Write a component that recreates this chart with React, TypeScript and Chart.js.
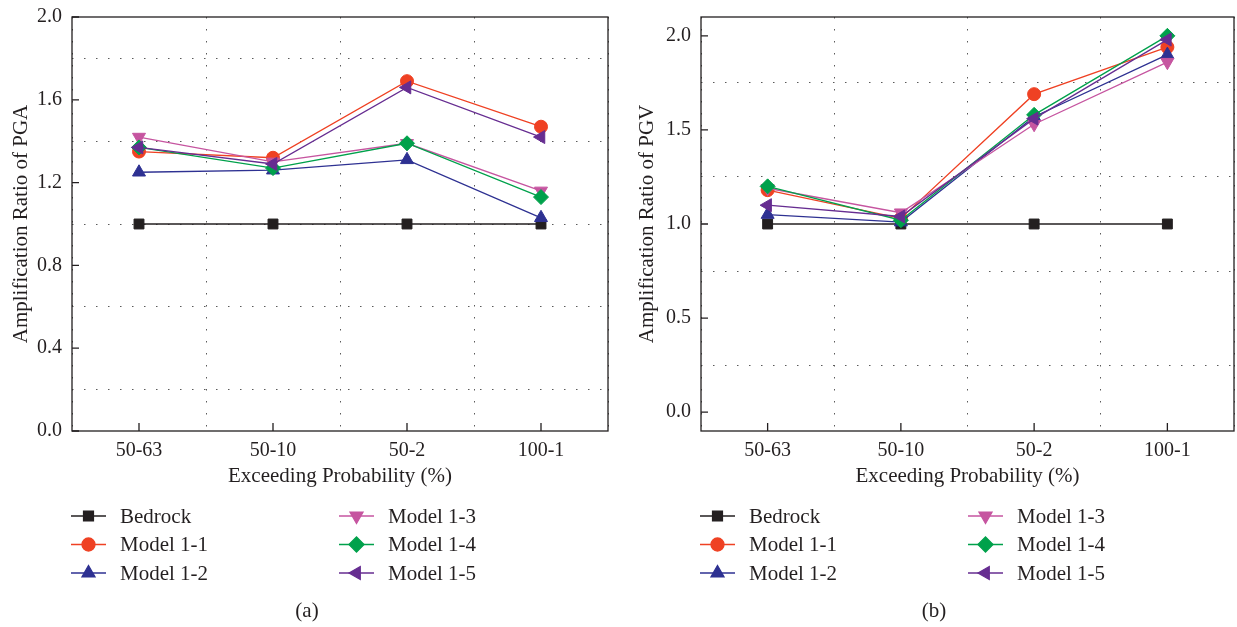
import React, { useEffect, useRef } from 'react';
import { Chart, registerables } from 'chart.js';
import { drawPoint } from 'chart.js/helpers';

Chart.register(...registerables);

// ---------- data ----------
const categories = ['50-63', '50-10', '50-2', '100-1'];
const seriesNames = ['Bedrock', 'Model 1-1', 'Model 1-2', 'Model 1-3', 'Model 1-4', 'Model 1-5'];

const pgaBedrock = [1.0, 1.0, 1.0, 1.0];
const pgaModel11 = [1.35, 1.32, 1.69, 1.47];
const pgaModel12 = [1.25, 1.26, 1.31, 1.03];
const pgaModel13 = [1.42, 1.3, 1.39, 1.16];
const pgaModel14 = [1.37, 1.27, 1.39, 1.13];
const pgaModel15 = [1.37, 1.29, 1.66, 1.42];

const pgvBedrock = [1.0, 1.0, 1.0, 1.0];
const pgvModel11 = [1.18, 1.03, 1.69, 1.94];
const pgvModel12 = [1.05, 1.01, 1.57, 1.9];
const pgvModel13 = [1.19, 1.06, 1.53, 1.86];
const pgvModel14 = [1.2, 1.02, 1.58, 2.0];
const pgvModel15 = [1.1, 1.04, 1.56, 1.98];

const pgaTicks = [0, 0.2, 0.4, 0.6, 0.8, 1.0, 1.2, 1.4, 1.6, 1.8, 2.0];
const pgaLabelTicks = [0, 0.4, 0.8, 1.2, 1.6, 2.0];
const pgvTicks = [0, 0.25, 0.5, 0.75, 1.0, 1.25, 1.5, 1.75, 2.0];
const pgvLabelTicks = [0, 0.5, 1.0, 1.5, 2.0];

// ---------- styles ----------
const FONT = "'Liberation Serif', 'Times New Roman', serif";
const INK = '#231f20';
const GRID = '#5a5a5a';
const colors = ['#231f20', '#ef4123', '#2e3192', '#c655a0', '#00a14b', '#662d91'];
const pointStyles = ['rect', 'circle', 'triangle', 'triangle', 'rectRot', 'triangle'];
const pointRotations = [0, 0, 0, 180, 0, 270];
const pointRadii = [7, 6.5, 7.5, 7.5, 7.5, 7.5];

const isIn = (v: number, list: number[]) => list.some((l) => Math.abs(l - v) < 1e-6);

interface Panel {
  series: number[][];
  ticks: number[];
  labelTicks: number[];
  min: number;
  max: number;
  yTitle: string;
  yWidth: number;
  padRight: number;
  yTitlePad: number;
  caption: string;
  captionX: number;
}

function decorPlugin(p: Panel) {
  return {
    id: 'decor',
    beforeDatasetsDraw(chart: any) {
      const { ctx, chartArea } = chart;
      const { left, right, top, bottom } = chartArea;
      const ys = chart.scales.y;
      const xs = chart.scales.x;
      ctx.save();
      ctx.strokeStyle = INK;
      ctx.lineWidth = 1.3;
      ctx.strokeRect(left, top, right - left, bottom - top);
      ctx.beginPath();
      p.labelTicks.forEach((v) => {
        const y = ys.getPixelForValue(v);
        ctx.moveTo(left, y);
        ctx.lineTo(left + 7, y);
      });
      categories.forEach((_, i) => {
        const x = xs.getPixelForValue(i);
        ctx.moveTo(x, bottom);
        ctx.lineTo(x, bottom - 8);
      });
      ctx.stroke();
      ctx.restore();
    },
    afterDraw(chart: any) {
      const { ctx, chartArea } = chart;
      const left = chartArea.left;
      ctx.save();
      chart.data.datasets.forEach((ds: any, i: number) => {
        const col = i < 3 ? 0 : 1;
        const row = i % 3;
        const x0 = left - 1 + col * 268;
        const y = 516 + row * 28.5;
        ctx.strokeStyle = ds.borderColor;
        ctx.fillStyle = ds.borderColor;
        ctx.lineWidth = 1.3;
        ctx.beginPath();
        ctx.moveTo(x0, y);
        ctx.lineTo(x0 + 35, y);
        ctx.stroke();
        drawPoint(
          ctx,
          { pointStyle: ds.pointStyle, rotation: ds.pointRotation, radius: ds.pointRadius, borderWidth: 1 } as any,
          x0 + 17.5,
          y
        );
        ctx.fillStyle = INK;
        ctx.font = `21px ${FONT}`;
        ctx.textAlign = 'left';
        ctx.textBaseline = 'middle';
        ctx.fillText(ds.label, x0 + 49, y + 1);
      });
      ctx.font = `21px ${FONT}`;
      ctx.textAlign = 'center';
      ctx.textBaseline = 'middle';
      ctx.fillStyle = INK;
      ctx.fillText(p.caption, p.captionX, 611);
      ctx.restore();
    },
  };
}

function buildConfig(p: Panel): any {
  return {
    type: 'line',
    data: {
      labels: categories,
      datasets: p.series.map((vals, i) => ({
        label: seriesNames[i],
        data: vals,
        borderColor: colors[i],
        backgroundColor: colors[i],
        pointBackgroundColor: colors[i],
        pointBorderColor: colors[i],
        pointStyle: pointStyles[i],
        pointRotation: pointRotations[i],
        pointRadius: pointRadii[i],
        pointBorderWidth: 1,
        borderWidth: 1.3,
        tension: 0,
        fill: false,
        order: 5 - i,
      })),
    },
    options: {
      animation: false,
      responsive: false,
      devicePixelRatio: 1,
      events: [],
      layout: { autoPadding: false, padding: { left: 0, right: p.padRight, top: 17, bottom: 136 } },
      plugins: { legend: { display: false }, tooltip: { enabled: false } },
      scales: {
        x: {
          type: 'category',
          offset: true,
          grid: { offset: true, color: GRID, lineWidth: 1, drawTicks: false },
          border: { display: false, dash: [1.5, 10.5] },
          ticks: { color: INK, font: { size: 20, family: FONT }, padding: 8, maxRotation: 0 },
          title: {
            display: true,
            text: 'Exceeding Probability (%)',
            color: INK,
            font: { size: 21, family: FONT },
            padding: { top: 0, bottom: 2 },
          },
          afterFit: (s: any) => {
            s.height = 60;
            s.paddingLeft = 0;
            s.paddingRight = 0;
          },
        },
        y: {
          type: 'linear',
          min: p.min,
          max: p.max,
          afterBuildTicks: (s: any) => {
            s.ticks = p.ticks.map((v) => ({ value: v }));
          },
          grid: {
            color: (c: any) => (c.tick && isIn(c.tick.value, p.labelTicks) ? 'rgba(0,0,0,0)' : GRID),
            lineWidth: 1,
            drawTicks: false,
          },
          border: { display: false, dash: [1.5, 10.5] },
          ticks: {
            color: INK,
            font: { size: 20, family: FONT },
            padding: 10,
            callback: (v: any) => (isIn(Number(v), p.labelTicks) ? Number(v).toFixed(1) : ''),
          },
          title: {
            display: true,
            text: p.yTitle,
            color: INK,
            font: { size: 21, family: FONT },
            padding: { top: p.yTitlePad, bottom: 0 },
          },
          afterFit: (s: any) => {
            s.width = p.yWidth;
            s.paddingTop = 0;
            s.paddingBottom = 0;
          },
        },
      },
    },
    plugins: [decorPlugin(p)],
  };
}

const panelA: Panel = {
  series: [pgaBedrock, pgaModel11, pgaModel12, pgaModel13, pgaModel14, pgaModel15],
  ticks: pgaTicks,
  labelTicks: pgaLabelTicks,
  min: 0,
  max: 2.0,
  yTitle: 'Amplification Ratio of PGA',
  yWidth: 72,
  padRight: 10,
  yTitlePad: 9,
  caption: '(a)',
  captionX: 307,
};

const panelB: Panel = {
  series: [pgvBedrock, pgvModel11, pgvModel12, pgvModel13, pgvModel14, pgvModel15],
  ticks: pgvTicks,
  labelTicks: pgvLabelTicks,
  min: -0.1,
  max: 2.1,
  yTitle: 'Amplification Ratio of PGV',
  yWidth: 83,
  padRight: 3,
  yTitlePad: 17,
  caption: '(b)',
  captionX: 316,
};

function ChartCanvas({ panel, left, width }: { panel: Panel; left: number; width: number }) {
  const ref = useRef<HTMLCanvasElement | null>(null);
  useEffect(() => {
    if (!ref.current) return;
    const chart = new Chart(ref.current, buildConfig(panel));
    return () => chart.destroy();
  }, [panel]);
  return (
    <canvas
      ref={ref}
      width={width}
      height={627}
      style={{ position: 'absolute', left, top: 0, width, height: 627 }}
    />
  );
}

export default function App() {
  return (
    <div style={{ position: 'absolute', left: 0, top: 0, width: 1237, height: 627, background: '#ffffff' }}>
      <ChartCanvas panel={panelA} left={0} width={618} />
      <ChartCanvas panel={panelB} left={618} width={619} />
    </div>
  );
}
